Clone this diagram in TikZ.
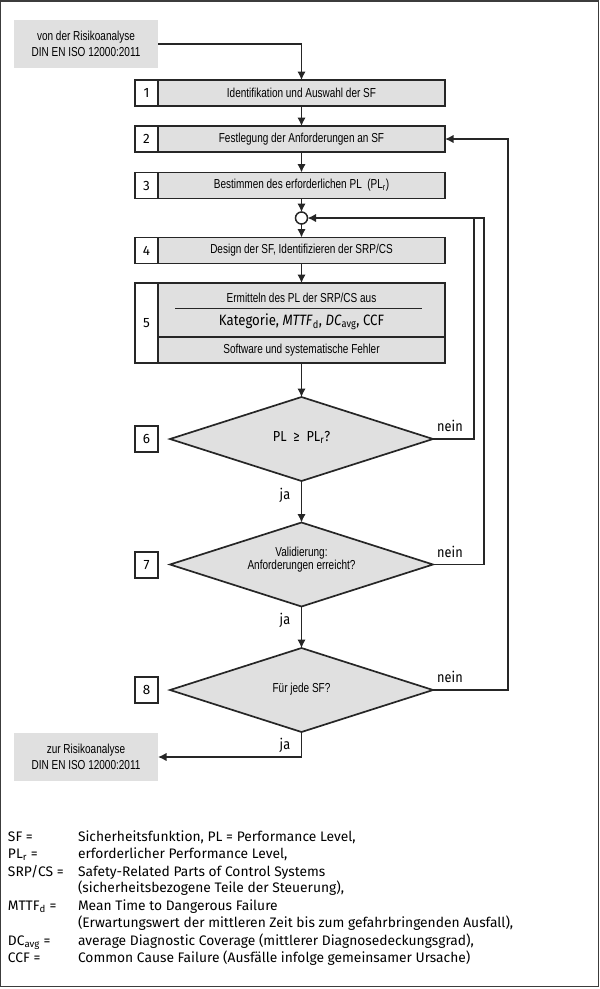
\documentclass[tikz,border=0pt]{standalone}
\usepackage{fontspec}
\setmainfont{Liberation Sans}
\newfontfamily\arn[FakeStretch=0.77]{Liberation Sans}
\newfontfamily\fira{Fira Sans}
\newfontfamily\firac[FakeStretch=0.88]{Fira Sans}
\usetikzlibrary{shapes.geometric,arrows.meta}
\definecolor{boxgray}{RGB}{224,224,224}
\definecolor{framec}{RGB}{60,60,60}
\begin{document}
\begin{tikzpicture}[x=1pt,y=-1pt,
  every node/.style={inner sep=0pt, outer sep=0pt},
  conn/.style={line width=1.6pt, draw=black!85, -{Latex[length=8.5pt,width=8.5pt]}},
  plain/.style={line width=1.6pt, draw=black!85},
  stepbox/.style={draw=black!85, line width=1.7pt, fill=boxgray, minimum width=287pt, minimum height=26pt, font=\arn\fontsize{13}{15}\selectfont},
  numbox/.style={draw=black!85, line width=1.7pt, fill=white, minimum width=23pt, minimum height=26pt, font=\fira\fontsize{13.5}{15}\selectfont},
  decision/.style={diamond, draw=black!85, line width=1.7pt, fill=boxgray, aspect=3.13, minimum width=263pt, minimum height=84pt},
  endbox/.style={fill=boxgray, minimum width=144pt, minimum height=48pt, align=center, font=\arn\fontsize{13}{15.6}\selectfont},
  lbl/.style={font=\firac\fontsize{14.5}{16}\selectfont},
  txt/.style={font=\arn\fontsize{13}{15}\selectfont},
  legend/.style={anchor=base west, font=\fira\fontsize{13.8}{16}\selectfont}
]
\useasboundingbox (0,0) rectangle (600,989);
\draw[line width=1.4pt, framec] (0.8,0.8) rectangle (598.6,986.4);

% start / end boxes
\node[endbox] (tb) at (86,44) {von der Risikoanalyse\\DIN EN ISO 12000:2011};
\node[endbox] (bb) at (86,757) {zur Risikoanalyse\\DIN EN ISO 12000:2011};

% steps
\node[stepbox] (s1) at (301.5,93) {Identifikation und Auswahl der SF};
\node[numbox] (n1) at (146.5,93) {1};
\node[stepbox] (s2) at (301.5,139) {Festlegung der Anforderungen an SF};
\node[numbox] (n2) at (146.5,139) {2};
\node[stepbox] (s3) at (301.5,185.5) {Bestimmen des erforderlichen PL~~(PL\textsubscript{r})};
\node[numbox] (n3) at (146.5,185.5) {3};
\node[draw=black!85, line width=1.5pt, fill=white, circle, minimum size=12pt] (c) at (301.5,218) {};
\node[stepbox] (s4) at (301.5,250.5) {Design der SF, Identifizieren der SRP/CS};
\node[numbox] (n4) at (146.5,250.5) {4};
\node[stepbox, minimum height=80pt] (s5) at (301.5,323) {};
\node[numbox, minimum height=80pt] (n5) at (146.5,323) {5};
\draw[plain] (158,336.7) -- (445,336.7);
\draw[line width=0.9pt, black!85] (175,308.7) -- (422,308.7);
\node[txt] (t5a) at (301.5,297.5) {Ermitteln des PL der SRP/CS aus};
\node[font=\firac\fontsize{15}{16}\selectfont] (t5b) at (301.5,322) {Kategorie, \textit{MTTF}\textsubscript{d}, \textit{DC}\textsubscript{avg}, CCF};
\node[txt] (t5c) at (301.5,350) {Software und systematische Fehler};

% decisions
\node[decision] (d6) at (301.5,439) {};
\node[font=\firac\fontsize{14.5}{16}\selectfont] (t6) at (301.5,437) {PL~~≥~~PL\textsubscript{r}?};
\node[numbox] (n6) at (146.5,439) {6};
\node[decision] (d7) at (301.5,564.5) {};
\node[txt, align=center, font=\arn\fontsize{13}{13.5}\selectfont] (t7) at (301.5,559.5) {Validierung:\\Anforderungen erreicht?};
\node[numbox] (n7) at (146.5,565) {7};
\node[decision] (d8) at (301.5,690) {};
\node[txt] (t8) at (301.5,689) {Für jede SF?};
\node[numbox] (n8) at (146.5,690) {8};

% junction coordinates
\coordinate (j0) at (474,218);
\coordinate (j1) at (484,218);
\coordinate (j2) at (508,139);

% connectors
\draw[conn] (tb.east) -| (s1.north);
\draw[conn] (s1.south) -- (s2.north);
\draw[conn] (s2.south) -- (s3.north);
\draw[conn] (s3.south) -- (c.north);
\draw[conn] (c.south) -- (s4.north);
\draw[conn] (s4.south) -- (s5.north);
\draw[conn] (s5.south) -- (d6.north);
\draw[conn] (d6.south) -- (d7.north);
\draw[conn] (d7.south) -- (d8.north);
\draw[conn] (d8.south) |- (bb.east);
\draw[plain] (d6.east) -| (j0);
\draw[conn] (d7.east) -| (j1) -- (c.east);
\draw[conn] (d8.east) -| (j2) -- (s2.east);

% labels
\node[lbl] (ja6) at (285,495) {ja};
\node[lbl] (ja7) at (285,620) {ja};
\node[lbl] (ja8) at (285,745) {ja};
\node[lbl] (ne6) at (450,426) {nein};
\node[lbl] (ne7) at (450,552) {nein};
\node[lbl] (ne8) at (450,677) {nein};

% legend
\node[legend] (l1a) at (8,841) {SF =};
\node[legend] (l1b) at (78,841) {Sicherheitsfunktion, PL = Performance Level,};
\node[legend] (l2a) at (8,858.5) {PL\textsubscript{r} =};
\node[legend] (l2b) at (78,858.5) {erforderlicher Performance Level,};
\node[legend] (l3a) at (8,876.5) {SRP/CS =};
\node[legend] (l3b) at (78,876.5) {Safety-Related Parts of Control Systems};
\node[legend] (l3c) at (78,892.5) {(sicherheitsbezogene Teile der Steuerung),};
\node[legend] (l4a) at (8,910.5) {MTTF\textsubscript{d} =};
\node[legend] (l4b) at (78,910.5) {Mean Time to Dangerous Failure};
\node[legend] (l4c) at (78,927) {(Erwartungswert der mittleren Zeit bis zum gefahrbringenden Ausfall),};
\node[legend] (l5a) at (8,945) {DC\textsubscript{avg} =};
\node[legend] (l5b) at (78,945) {average Diagnostic Coverage (mittlerer Diagnosedeckungsgrad),};
\node[legend] (l6a) at (8,962.5) {CCF =};
\node[legend] (l6b) at (78,962.5) {Common Cause Failure (Ausfälle infolge gemeinsamer Ursache)};
\end{tikzpicture}
\end{document}
